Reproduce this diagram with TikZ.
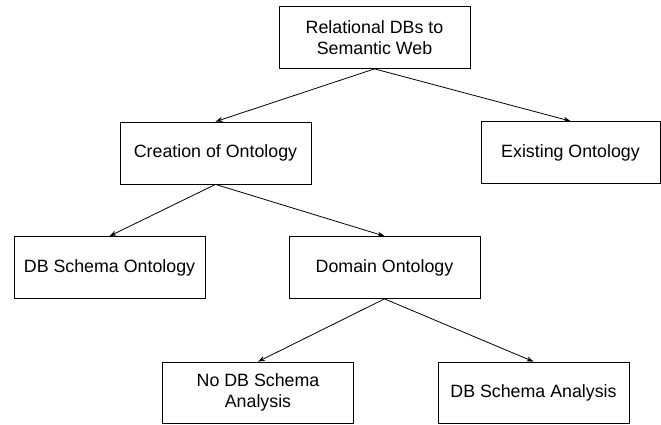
\documentclass[tikz,border=0pt]{standalone}
\usepackage{fontspec}
\setmainfont{Liberation Sans}
\usetikzlibrary{arrows.meta}

\begin{document}
\begin{tikzpicture}[x=1pt, y=-1pt, >={Stealth[length=7pt,width=5pt]},
  every node/.style={draw, line width=0.8pt, minimum width=191pt, minimum height=62pt,
    inner sep=0pt, align=center, font=\fontsize{17.8}{21}\selectfont}]
  \useasboundingbox (0,0) rectangle (661,425);

  % Nodes
  \node (RDB) at (374.5, 37.5) {Relational DBs to\\Semantic Web};
  \node (CO) at (215.5, 153) {Creation of Ontology};
  \node[minimum width=179pt] (EO) at (570.5, 152.5) {Existing Ontology};
  \node (SO) at (109.5, 267.5) {DB Schema Ontology};
  \node (DO) at (384.5, 267.5) {Domain Ontology};
  \node[minimum height=61pt] (NA) at (258, 392.5) {No DB Schema\\Analysis};
  \node[minimum height=61pt] (SA) at (533.5, 392.5) {DB Schema Analysis};

  % Arrows
  \draw[->, line width=0.8pt] (RDB.south) -- (CO.north);
  \draw[->, line width=0.8pt] (RDB.south) -- (EO.north);
  \draw[->, line width=0.8pt] (CO.south) -- (SO.north);
  \draw[->, line width=0.8pt] (CO.south) -- (DO.north);
  \draw[->, line width=0.8pt] (DO.south) -- (NA.north);
  \draw[->, line width=0.8pt] (DO.south) -- (SA.north);
\end{tikzpicture}
\end{document}
